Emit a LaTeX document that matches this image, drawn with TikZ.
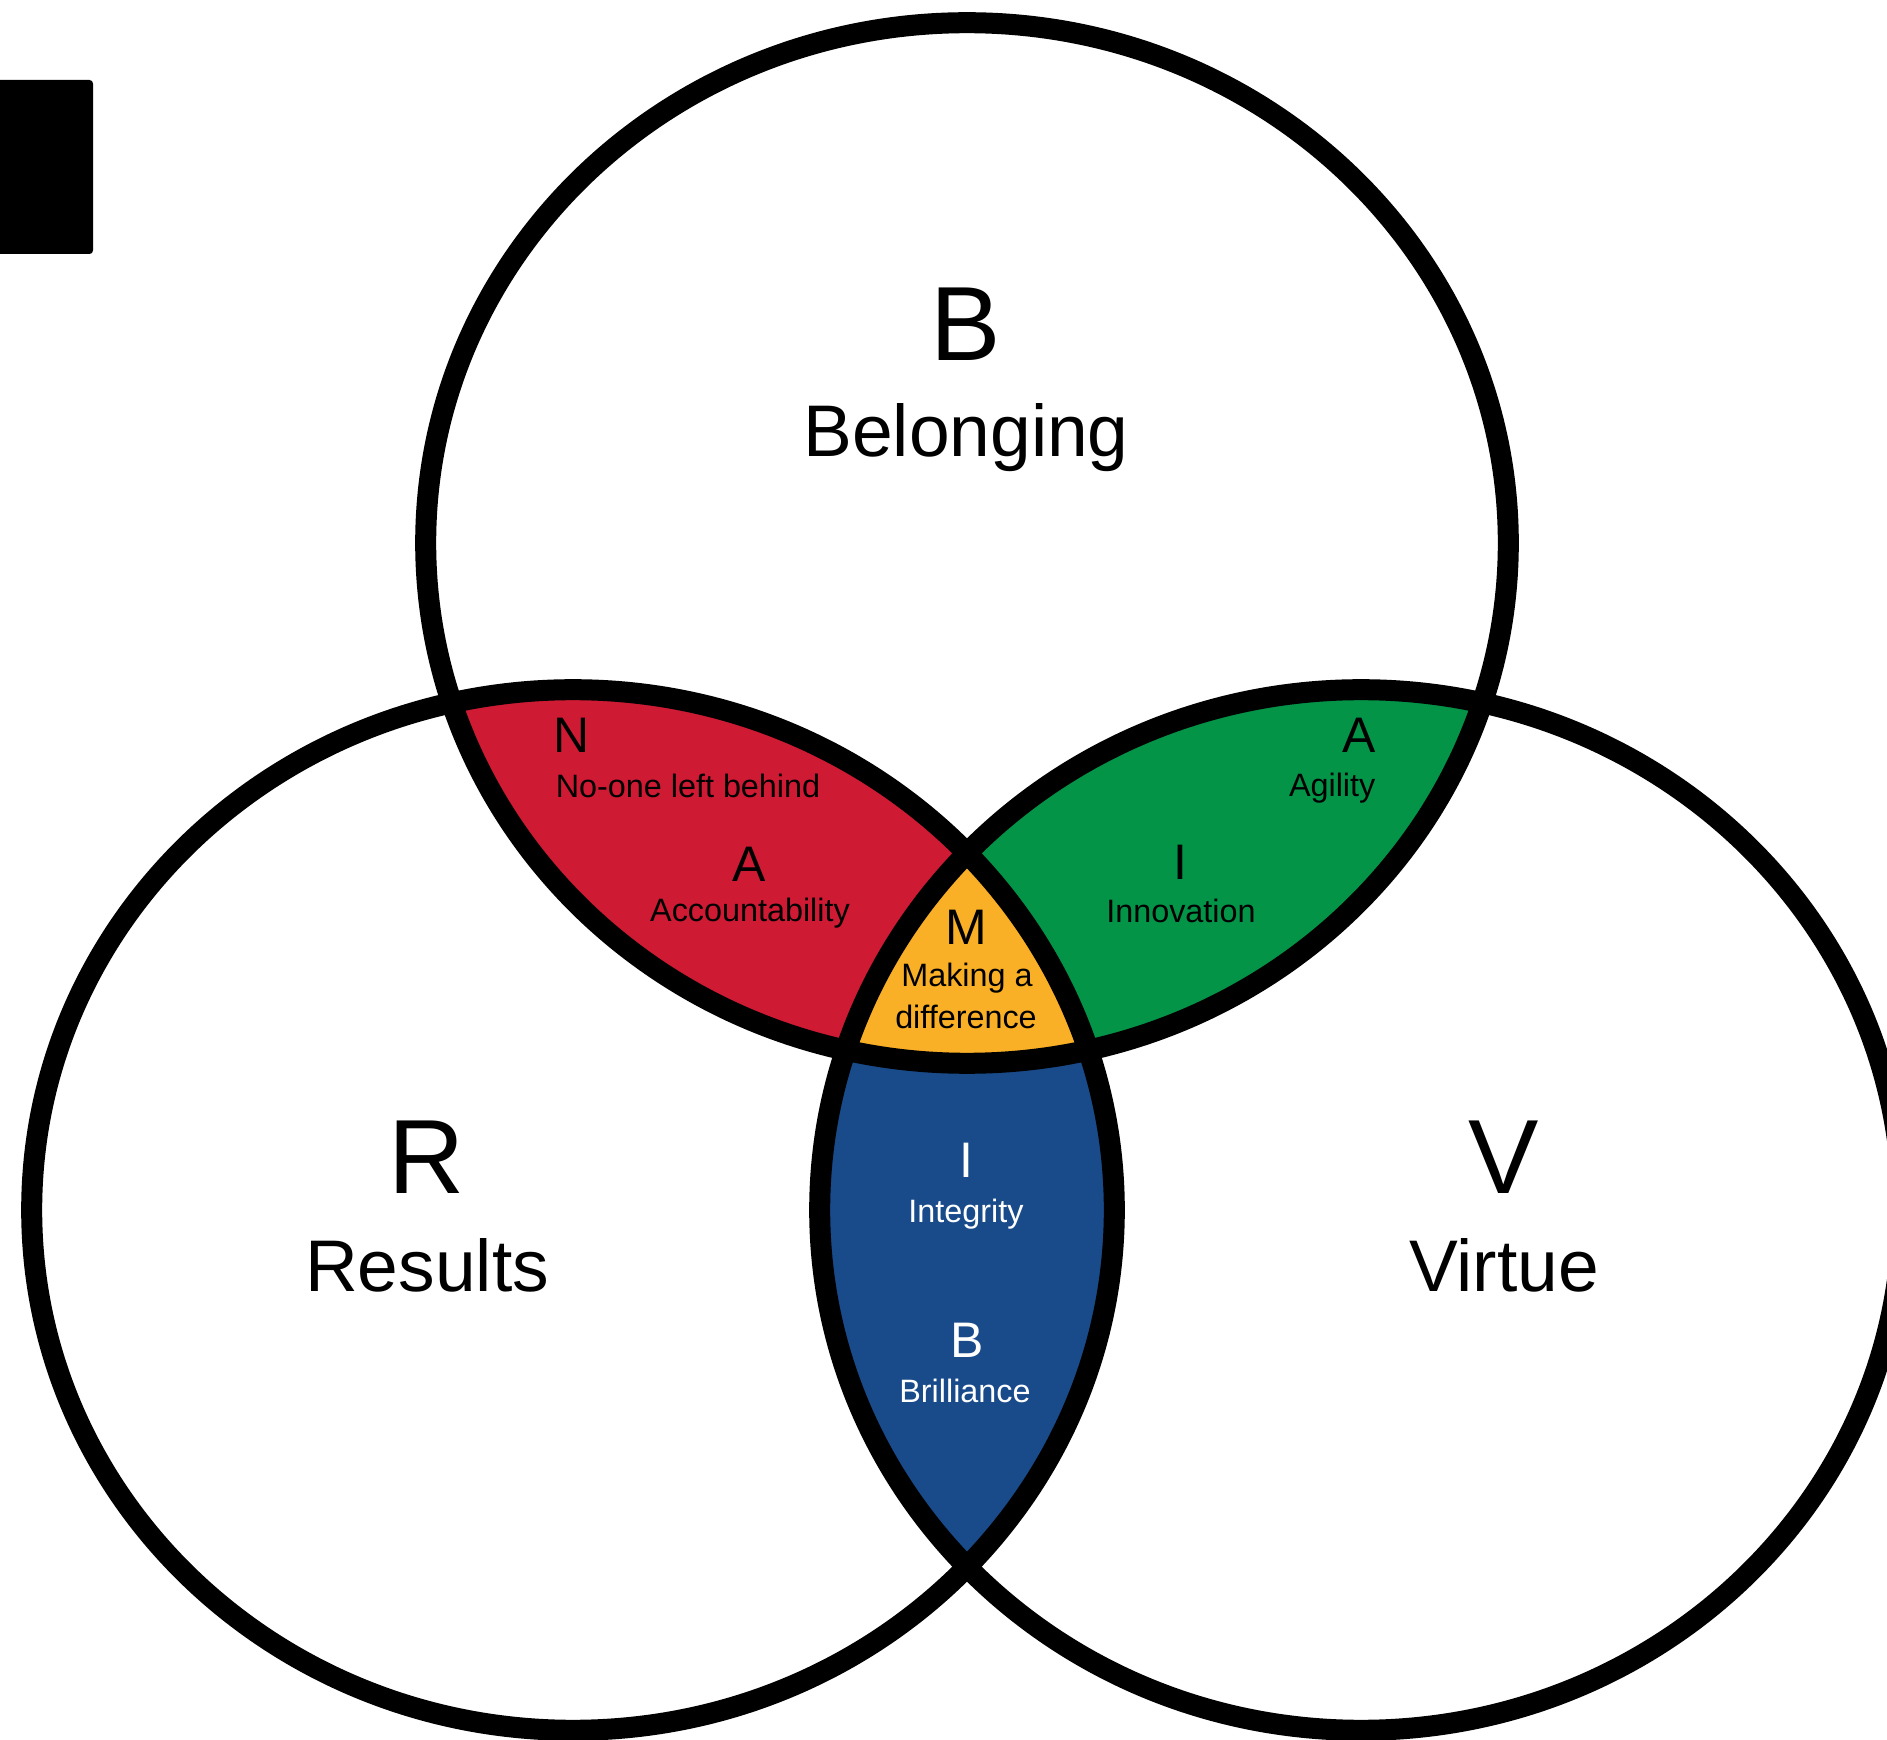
\documentclass[tikz,border=0pt]{standalone}
\usepackage{fontspec}
\setmainfont{Liberation Sans}
\definecolor{redc}{HTML}{CE1A33}
\definecolor{greenc}{HTML}{039447}
\definecolor{bluec}{HTML}{194B8B}
\definecolor{yellowc}{HTML}{F9B026}
\begin{document}
\begin{tikzpicture}[x=0.01cm,y=-0.01cm,
  ring/.style={draw=black,line width=0.21cm},
  big/.style={inner sep=0,anchor=base,font=\fontsize{30}{36}\selectfont},
  mid/.style={inner sep=0,anchor=base,font=\fontsize{20.8}{25}\selectfont},
  letter/.style={inner sep=0,anchor=base,font=\fontsize{14.2}{17}\selectfont},
  small/.style={inner sep=0,anchor=base,font=\fontsize{9.2}{11}\selectfont},
  ell/.style={x radius=5.41cm,y radius=5.20cm}]
\clip (0,0) rectangle (1887,1740);
\fill[white] (0,0) rectangle (1887,1740);
% corner block
\fill[black,rounded corners=1pt] (-10,80) rectangle (93,254);
% pairwise overlaps
\begin{scope}
  \clip (967,543) ellipse [ell];
  \fill[redc] (573,1210) ellipse [ell];
  \fill[greenc] (1361,1210) ellipse [ell];
\end{scope}
\begin{scope}
  \clip (573,1210) ellipse [ell];
  \fill[bluec] (1361,1210) ellipse [ell];
\end{scope}
\begin{scope}
  \clip (967,543) ellipse [ell];
  \clip (573,1210) ellipse [ell];
  \fill[yellowc] (1361,1210) ellipse [ell];
\end{scope}
% outlines
\draw[ring] (967,543) ellipse [ell];
\draw[ring] (573,1210) ellipse [ell];
\draw[ring] (1361,1210) ellipse [ell];
% main labels
\node[big] (bB) at (966,361) {B};
\node[mid] (bBel) at (966,457) {Belonging};
\node[big] (rR) at (427,1194) {R};
\node[mid] (rRes) at (427,1291) {Results};
\node[big] (vV) at (1504,1194) {V};
\node[mid] (vVir) at (1504,1291) {Virtue};
% red lens
\node[letter,anchor=base west] (nN) at (553,753) {N};
\node[small] (nNo) at (688,798) {No-one left behind};
\node[letter] (aA) at (749,882) {A};
\node[small] (aAcc) at (750,922) {Accountability};
% green lens
\node[letter,anchor=base east] (gA) at (1376,753) {A};
\node[small,anchor=base east] (gAg) at (1376,797) {Agility};
\node[letter] (gI) at (1180,880) {I};
\node[small] (gInn) at (1181,923) {Innovation};
% yellow centre
\node[letter] (mM) at (966,945) {M};
\node[small] (mMak) at (967,987) {Making a};
\node[small] (mDif) at (966,1028) {difference};
% blue lens
\node[letter,text=white] (bI) at (966,1177) {I};
\node[small,text=white] (bInt) at (966,1222) {Integrity};
\node[letter,text=white] (bB2) at (967,1357) {B};
\node[small,text=white] (bBri) at (965,1402) {Brilliance};
\end{tikzpicture}
\end{document}
